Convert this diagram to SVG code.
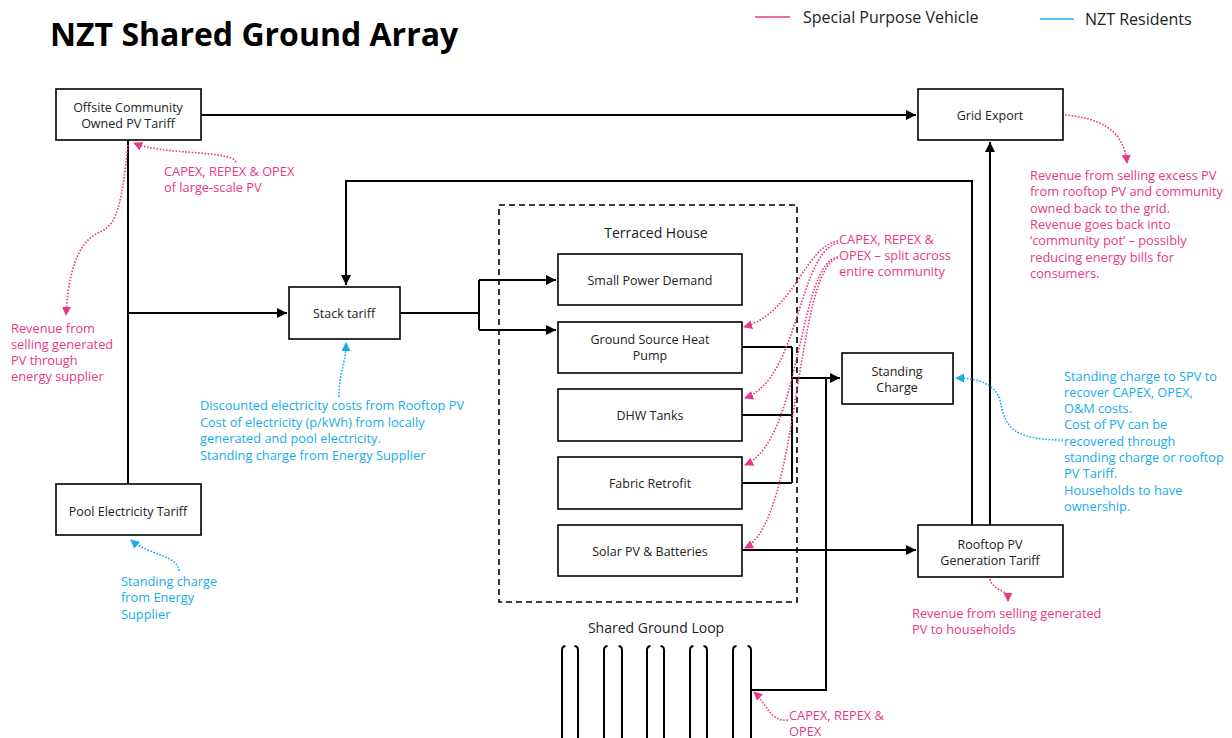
<svg xmlns="http://www.w3.org/2000/svg" width="1232" height="738" viewBox="0 0 1232 738">
<style>
.box{fill:#fff;stroke:#000;stroke-width:1.6}
.nt{font-family:"Open Sans","Noto Sans",sans-serif;font-size:12.5px;fill:#222;text-anchor:middle}
.lbl{font-family:"Open Sans","Noto Sans",sans-serif;font-size:14px;fill:#222;text-anchor:middle}
.an{font-family:"Open Sans","Noto Sans",sans-serif;font-size:12.8px}
.pk{fill:#E8388A}
.bl{fill:#17ACE8}
.con{fill:none;stroke:#000;stroke-width:2}
.pd{fill:none;stroke:#E8388A;stroke-width:1.6;stroke-dasharray:1.6 1.6}
.bd{fill:none;stroke:#17ACE8;stroke-width:1.6;stroke-dasharray:1.6 1.6}
.pipe{fill:none;stroke:#000;stroke-width:2}
</style>
<defs>
<marker id="ah" viewBox="0 0 10 10" refX="10" refY="5" markerWidth="11" markerHeight="10" markerUnits="userSpaceOnUse" orient="auto"><path d="M0,0 L10,5 L0,10 z" fill="#000"/></marker>
<marker id="ap" viewBox="0 0 10 10" refX="9" refY="5" markerWidth="9" markerHeight="9" markerUnits="userSpaceOnUse" orient="auto"><path d="M0,0 L10,5 L0,10 z" fill="#E8388A"/></marker>
<marker id="ab" viewBox="0 0 10 10" refX="9" refY="5" markerWidth="9" markerHeight="9" markerUnits="userSpaceOnUse" orient="auto"><path d="M0,0 L10,5 L0,10 z" fill="#17ACE8"/></marker>
</defs>
<rect width="1232" height="738" fill="#fff"/>
<text x="50" y="46" font-family="'Open Sans','Noto Sans',sans-serif" font-size="32" font-weight="bold" fill="#000">NZT Shared Ground Array</text>
<g id="legend">
<line x1="755" y1="17" x2="790" y2="17" stroke="#E8388A" stroke-width="1.6"/>
<text x="803" y="23" font-family="'Open Sans','Noto Sans',sans-serif" font-size="16" fill="#222">Special Purpose Vehicle</text>
<line x1="1040" y1="19" x2="1074" y2="19" stroke="#17ACE8" stroke-width="1.6"/>
<text x="1085" y="25" font-family="'Open Sans','Noto Sans',sans-serif" font-size="16" fill="#222">NZT Residents</text>
</g>
<g id="connectors">
<path class="con" d="M201 115 H916" marker-end="url(#ah)"/>
<path class="con" d="M128 140 V484"/>
<path class="con" d="M128 313 H287" marker-end="url(#ah)"/>
<path class="con" d="M400 313 H479 M479 280 V330"/>
<path class="con" d="M479 280 H556" marker-end="url(#ah)"/>
<path class="con" d="M479 330 H556" marker-end="url(#ah)"/>
<path class="con" d="M990 525 V142" marker-end="url(#ah)"/>
<path class="con" d="M972 525 V181 H346 V285" marker-end="url(#ah)"/>
<path class="con" d="M742 347 H792 M742 415 H792 M742 483 H792 M792 347 V483"/>
<path class="con" d="M792 378 H840" marker-end="url(#ah)"/>
<path class="con" d="M826 378 V690 H751"/>
<path class="con" d="M742 550 H916" marker-end="url(#ah)"/>
</g>
<g id="terraced-house">
<rect x="499" y="205" width="298" height="397" fill="none" stroke="#000" stroke-width="1.6" stroke-dasharray="6 4"/>
<text class="lbl" x="656" y="238">Terraced House</text>
</g>
<g id="offsite"><rect class="box" x="56" y="89" width="145" height="51"/><text class="nt" x="128" y="111.5">Offsite Community</text><text class="nt" x="128" y="127.5">Owned PV Tariff</text></g>
<g id="grid-export"><rect class="box" x="918" y="89" width="145" height="51"/><text class="nt" x="990" y="119.5">Grid Export</text></g>
<g id="stack-tariff"><rect class="box" x="289" y="287" width="111" height="52"/><text class="nt" x="344" y="317.5">Stack tariff</text></g>
<g id="pool"><rect class="box" x="56" y="484" width="145" height="51"/><text class="nt" x="128" y="515.5">Pool Electricity Tariff</text></g>
<g id="small-power"><rect class="box" x="558" y="254" width="184" height="51"/><text class="nt" x="650" y="284.5">Small Power Demand</text></g>
<g id="gshp"><rect class="box" x="558" y="322" width="184" height="51"/><text class="nt" x="650" y="343.5">Ground Source Heat</text><text class="nt" x="650" y="359.5">Pump</text></g>
<g id="dhw"><rect class="box" x="558" y="389" width="184" height="52"/><text class="nt" x="650" y="420">DHW Tanks</text></g>
<g id="fabric"><rect class="box" x="558" y="457" width="184" height="52"/><text class="nt" x="650" y="487.5">Fabric Retrofit</text></g>
<g id="solar"><rect class="box" x="558" y="525" width="184" height="51"/><text class="nt" x="650" y="555.5">Solar PV &amp; Batteries</text></g>
<g id="standing-charge"><rect class="box" x="842" y="353" width="111" height="51"/><text class="nt" x="897" y="376">Standing</text><text class="nt" x="897" y="392">Charge</text></g>
<g id="rooftop"><rect class="box" x="918" y="525" width="145" height="52"/><text class="nt" x="990" y="548.5">Rooftop PV</text><text class="nt" x="990" y="564.5">Generation Tariff</text></g>
<g id="ground-loop">
<text class="lbl" x="656" y="633">Shared Ground Loop</text>
<path class="pipe" d="M565.5 646 Q562 646.5 562 650 V740 M574.5 646 Q578 646.5 578 650 V740"/>
<path class="pipe" d="M607.5 646 Q604 646.5 604 650 V740 M618.5 646 Q622 646.5 622 650 V740"/>
<path class="pipe" d="M650.5 646 Q647 646.5 647 650 V740 M660.5 646 Q664 646.5 664 650 V740"/>
<path class="pipe" d="M693.5 646 Q690 646.5 690 650 V740 M703.5 646 Q707 646.5 707 650 V740"/>
<path class="pipe" d="M736.5 646 Q733 646.5 733 650 V740 M747.5 646 Q751 646.5 751 650 V740"/>
</g>
<g id="annotations">
<path class="pd" d="M236 162 C232 150 160 155 134 143" marker-end="url(#ap)"/>
<text class="an pk" x="164" y="175.5">CAPEX, REPEX &amp; OPEX<tspan x="164" dy="16.5">of large-scale PV</tspan></text>
<path class="pd" d="M128 145 C122 200 118 225 100 232 C75 242 68 280 66 315" marker-end="url(#ap)"/>
<text class="an pk" x="11" y="332.5">Revenue from<tspan x="11" dy="16.3">selling generated</tspan><tspan x="11" dy="16.3">PV through</tspan><tspan x="11" dy="16.3">energy supplier</tspan></text>
<path class="bd" d="M339 397 C339 370 346 365 346 343" marker-end="url(#ab)"/>
<text class="an bl" x="200" y="410">Discounted electricity costs from Rooftop PV<tspan x="200" dy="16.5">Cost of electricity (p/kWh) from locally</tspan><tspan x="200" dy="16.5">generated and pool electricity.</tspan><tspan x="200" dy="16.5">Standing charge from Energy Supplier</tspan></text>
<path class="bd" d="M179 571 C178 555 150 556 131 540" marker-end="url(#ab)"/>
<text class="an bl" x="121" y="585.5">Standing charge<tspan x="121" dy="16.5">from Energy</tspan><tspan x="121" dy="16.5">Supplier</tspan></text>
<path class="pd" d="M838 241 C805 246 795 312 744 327" marker-end="url(#ap)"/>
<path class="pd" d="M838 243 C798 252 800 378 745 398" marker-end="url(#ap)"/>
<path class="pd" d="M838 257 C798 262 802 440 745 465" marker-end="url(#ap)"/>
<path class="pd" d="M838 258 C795 268 800 520 745 548" marker-end="url(#ap)"/>
<text class="an pk" x="839" y="243.5">CAPEX, REPEX &amp;<tspan x="839" dy="16">OPEX – split across</tspan><tspan x="839" dy="16">entire community</tspan></text>
<path class="pd" d="M1065 115 C1100 118 1124 130 1127 163" marker-end="url(#ap)"/>
<text class="an pk" x="1030" y="180">Revenue from selling excess PV<tspan x="1030" dy="16.3">from rooftop PV and community</tspan><tspan x="1030" dy="16.3">owned back to the grid.</tspan><tspan x="1030" dy="16.3">Revenue goes back into</tspan><tspan x="1030" dy="16.3">‘community pot’  – possibly</tspan><tspan x="1030" dy="16.3">reducing energy bills for</tspan><tspan x="1030" dy="16.3">consumers.</tspan></text>
<path class="bd" d="M1063 440 C1010 440 1005 425 1000 400 C995 385 980 378 956 378" marker-end="url(#ab)"/>
<text class="an bl" x="1064" y="380.5">Standing charge to SPV to<tspan x="1064" dy="16.3">recover CAPEX, OPEX,</tspan><tspan x="1064" dy="16.3">O&amp;M costs.</tspan><tspan x="1064" dy="16.3">Cost of PV can be</tspan><tspan x="1064" dy="16.3">recovered through</tspan><tspan x="1064" dy="16.3">standing charge or rooftop</tspan><tspan x="1064" dy="16.3">PV Tariff.</tspan><tspan x="1064" dy="16.3">Households to have</tspan><tspan x="1064" dy="16.3">ownership.</tspan></text>
<path class="pd" d="M990 579 C993 592 1008 588 1008 601" marker-end="url(#ap)"/>
<text class="an pk" x="912" y="617.5">Revenue from selling generated<tspan x="912" dy="16">PV to households</tspan></text>
<path class="pd" d="M788 720 C770 722 768 705 754 692" marker-end="url(#ap)"/>
<text class="an pk" x="789" y="719.5">CAPEX, REPEX &amp;<tspan x="789" dy="16">OPEX</tspan></text>
</g>
</svg>
